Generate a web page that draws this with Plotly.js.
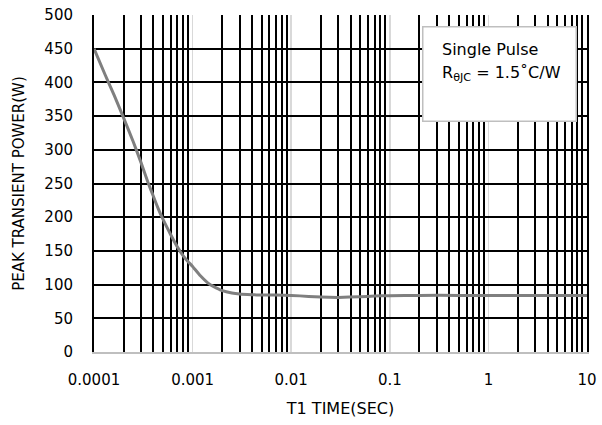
<!DOCTYPE html>
<html>
<head>
<meta charset="utf-8">
<script src="https://cdn.plot.ly/plotly-3.0.1.min.js"></script>
<style>html,body{margin:0;padding:0;background:#fff;}#chart{width:602px;height:425px;}</style>
</head>
<body>
<div id="chart"></div>
<script>
// Curve data
const timeSec = [0.0001, 0.00013, 0.00016, 0.0002, 0.00025, 0.0003, 0.00035, 0.0004, 0.00045, 0.0005, 0.0006, 0.0007, 0.0008, 0.0009, 0.001, 0.0012, 0.0015, 0.002, 0.0025, 0.003, 0.004, 0.005, 0.007, 0.01, 0.015, 0.02, 0.03, 0.05, 0.07, 0.1, 0.2, 0.5, 1, 2, 5, 10];
const peakPower = [450, 411, 381, 347, 312, 281, 253, 231, 212, 197, 174, 156, 143, 134, 127, 113, 100, 91, 87.5, 86, 85, 84.5, 84.5, 84, 82.5, 81.5, 81, 82, 83, 83.5, 84, 84, 84, 84, 84, 84];

const majorTicks = [0.0001, 0.001, 0.01, 0.1, 1, 10];
const majorLabels = ['0.0001', '0.001', '0.01', '0.1', '1', '10'];
const minorDigits = [2, 3, 4, 5, 6, 7, 8, 9];
const minorTicks = [];
majorTicks.slice(0, -1).forEach(d => minorDigits.forEach(m => minorTicks.push(+(d * m).toPrecision(3))));

const yTicks = [0, 50, 100, 150, 200, 250, 300, 350, 400, 450, 500];

const noteLine1 = 'Single Pulse';
const noteLine2 = 'R<sub>θJC</sub> = 1.5˚C/W';

const font = 'DejaVu Sans, sans-serif';

const traces = [
  {
    x: timeSec, y: peakPower, type: 'scatter', mode: 'lines',
    line: {color: '#7f7f7f', width: 3, shape: 'spline', smoothing: 0.4},
    hoverinfo: 'skip', showlegend: false
  },
  {
    x: timeSec, y: peakPower, xaxis: 'x2', type: 'scatter', mode: 'lines',
    line: {color: 'rgba(0,0,0,0)', width: 0},
    hoverinfo: 'skip', showlegend: false
  }
];

const layout = {
  width: 602, height: 425,
  margin: {l: 94, r: 15, t: 15, b: 73},
  paper_bgcolor: '#fff', plot_bgcolor: '#fff',
  font: {family: font, color: '#000', size: 15},
  xaxis: {
    type: 'log', range: [-4, 1],
    tickvals: majorTicks, ticktext: majorLabels,
    showgrid: true, gridcolor: '#d9d9d9', gridwidth: 1.5,
    showline: true, linecolor: '#bfbfbf', linewidth: 2,
    ticks: '', ticklabelstandoff: 13,
    zeroline: false,
    tickfont: {family: font, size: 15, color: '#000'},
    title: {text: 'T1 TIME(SEC)', font: {family: font, size: 16, color: '#000'}, standoff: 15}
  },
  xaxis2: {
    type: 'log', range: [-4, 1], overlaying: 'x', side: 'bottom',
    tickvals: minorTicks, showticklabels: false, ticks: '',
    showgrid: true, gridcolor: '#000', gridwidth: 2,
    showline: false, zeroline: false
  },
  yaxis: {
    range: [0, 500], tickvals: yTicks,
    showgrid: true, gridcolor: '#000', gridwidth: 2,
    showline: true, linecolor: '#000', linewidth: 2, mirror: true,
    zeroline: false, ticks: '', ticklabelstandoff: 16,
    tickfont: {family: font, size: 15, color: '#000'},
    title: {text: 'PEAK TRANSIENT POWER(W)', font: {family: font, size: 15, color: '#000'}, standoff: 16}
  },
  annotations: [
    {
      xref: 'paper', yref: 'paper', x: 0.665, y: 0.967,
      xanchor: 'left', yanchor: 'top',
      text: ' ', showarrow: false,
      width: 150, height: 91, borderpad: 1,
      bgcolor: '#fff', bordercolor: '#bfbfbf', borderwidth: 1.5,
      font: {family: font, size: 16, color: '#000'}
    },
    {
      xref: 'paper', yref: 'paper', x: 0.7018, y: 0.899,
      xanchor: 'left', yanchor: 'middle',
      text: noteLine1, showarrow: false, align: 'left',
      font: {family: font, size: 16, color: '#000'}
    },
    {
      xref: 'paper', yref: 'paper', x: 0.7018, y: 0.826,
      xanchor: 'left', yanchor: 'middle',
      text: noteLine2, showarrow: false, align: 'left',
      font: {family: font, size: 16, color: '#000'}
    }
  ]
};

Plotly.newPlot('chart', traces, layout, {displayModeBar: false, staticPlot: true});
</script>
</body>
</html>
